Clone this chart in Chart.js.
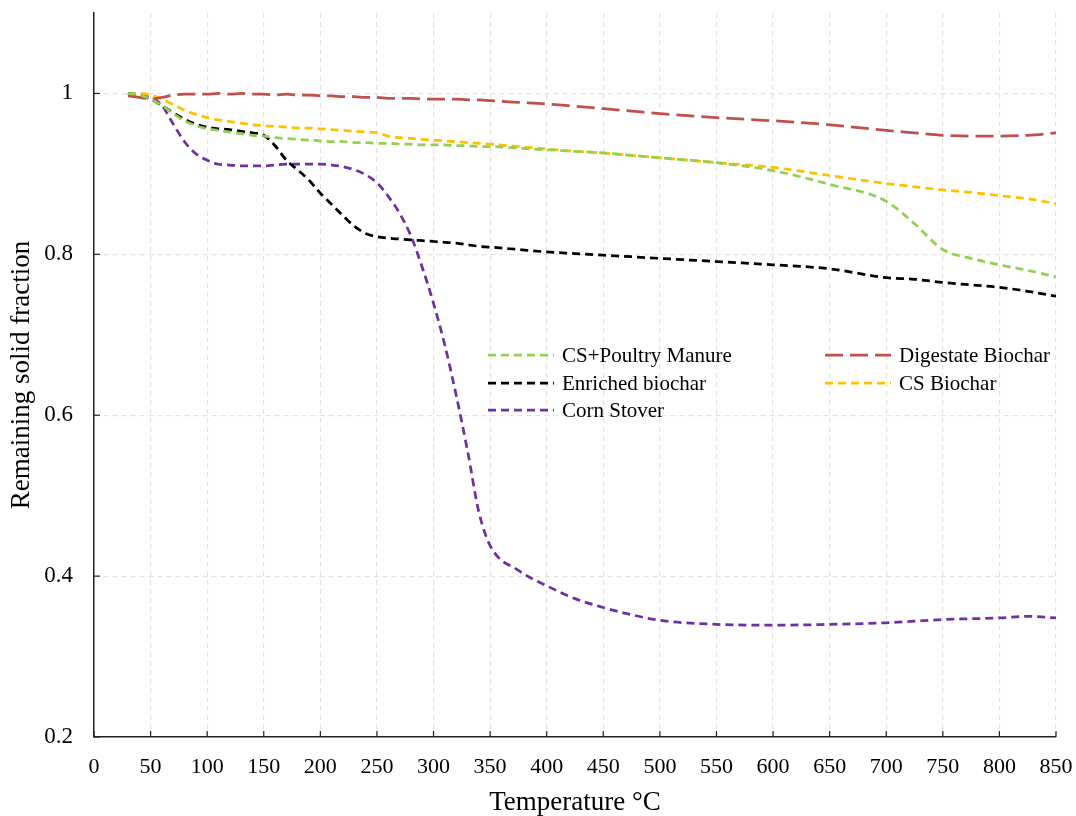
<!DOCTYPE html>
<html>
<head>
<meta charset="utf-8">
<script src="https://cdn.jsdelivr.net/npm/chart.js@4.4.1/dist/chart.umd.min.js"></script>
<style>
  html, body { margin: 0; padding: 0; background: #fff; }
  #wrap { width: 1076px; height: 816px; }
</style>
</head>
<body>
<div id="wrap"><canvas id="myChart"></canvas></div>
<script>
const temps = [30, 40, 50, 60, 70, 80, 90, 100, 110, 120, 130, 140, 150, 160, 170, 180, 190, 200,
  210, 220, 230, 240, 250, 260, 270, 280, 290, 300, 310, 320, 330, 340, 350, 375, 400, 425,
  450, 475, 500, 550, 600, 650, 700, 725, 750, 775, 800, 825, 850];

const csPoultry = [1.0, 0.998, 0.993, 0.985, 0.975, 0.966, 0.960, 0.956, 0.954, 0.952, 0.950, 0.948, 0.947, 0.945, 0.944, 0.943, 0.942, 0.941,
  0.940, 0.940, 0.939, 0.939, 0.938, 0.938, 0.937, 0.937, 0.936, 0.936, 0.936, 0.935, 0.935, 0.934, 0.934, 0.932, 0.930, 0.928,
  0.926, 0.923, 0.920, 0.914, 0.904, 0.887, 0.866, 0.838, 0.806, 0.795, 0.787, 0.780, 0.772];

const digestate = [0.997, 0.995, 0.993, 0.995, 0.998, 0.999, 0.999, 0.999, 1.0, 0.999, 1.0, 0.999, 0.999, 0.998, 0.999, 0.998, 0.998, 0.997,
  0.997, 0.996, 0.996, 0.995, 0.995, 0.994, 0.994, 0.994, 0.993, 0.993, 0.993, 0.993, 0.992, 0.992, 0.991, 0.989, 0.987, 0.984,
  0.981, 0.978, 0.975, 0.970, 0.966, 0.961, 0.954, 0.951, 0.948, 0.947, 0.947, 0.948, 0.951];

const enriched = [1.0, 0.997, 0.993, 0.985, 0.976, 0.968, 0.962, 0.958, 0.956, 0.955, 0.953, 0.951, 0.948, 0.935, 0.917, 0.905, 0.892, 0.876,
  0.862, 0.848, 0.835, 0.826, 0.822, 0.820, 0.819, 0.818, 0.817, 0.816, 0.815, 0.814, 0.812, 0.810, 0.809, 0.806, 0.803, 0.801,
  0.799, 0.797, 0.795, 0.791, 0.787, 0.782, 0.771, 0.769, 0.765, 0.762, 0.759, 0.754, 0.748];

const csBiochar = [1.0, 1.0, 0.998, 0.993, 0.986, 0.979, 0.974, 0.970, 0.967, 0.965, 0.963, 0.961, 0.960, 0.959, 0.958, 0.957, 0.957, 0.956,
  0.955, 0.954, 0.953, 0.952, 0.951, 0.947, 0.945, 0.944, 0.943, 0.942, 0.941, 0.940, 0.939, 0.938, 0.937, 0.934, 0.931, 0.928,
  0.926, 0.923, 0.920, 0.914, 0.908, 0.898, 0.888, 0.884, 0.880, 0.877, 0.873, 0.869, 0.863];

const cornStover = [1.0, 0.998, 0.995, 0.985, 0.962, 0.940, 0.925, 0.917, 0.912, 0.911, 0.910, 0.910, 0.910, 0.911, 0.912, 0.912, 0.912, 0.912,
  0.911, 0.909, 0.905, 0.899, 0.889, 0.872, 0.851, 0.823, 0.784, 0.739, 0.687, 0.625, 0.556, 0.480, 0.438, 0.407, 0.388, 0.372,
  0.361, 0.352, 0.345, 0.340, 0.339, 0.340, 0.342, 0.344, 0.346, 0.347, 0.348, 0.350, 0.348];

const seriesNames = ['CS+Poultry Manure', 'Digestate Biochar', 'Enriched biochar', 'CS Biochar', 'Corn Stover'];
const seriesColors = ['#92D050', '#C0504D', '#000000', '#FFC000', '#7030A0'];
const seriesValues = [csPoultry, digestate, enriched, csBiochar, cornStover];

const FONT = '"Liberation Serif", "Times New Roman", serif';

function makeSet(i) {
  return {
    label: seriesNames[i],
    data: temps.map((t, k) => ({ x: t, y: seriesValues[i][k] })),
    borderColor: seriesColors[i],
    backgroundColor: seriesColors[i],
    borderWidth: 2.75,
    borderDash: i === 1 ? [18, 7] : [8, 5],
    pointRadius: 0,
    cubicInterpolationMode: 'monotone',
    fill: false
  };
}

// legend drawn inside the plot, two columns like the original
const legendPlugin = {
  id: 'innerLegend',
  afterDraw(chart) {
    const ctx = chart.ctx;
    const spots = [
      [488, 355], [825, 355],
      [488, 383], [825, 383],
      [488, 410]
    ];
    ctx.save();
    ctx.font = '21px ' + FONT;
    ctx.textBaseline = 'middle';
    chart.data.datasets.forEach((ds, i) => {
      const [x, y] = spots[i];
      ctx.strokeStyle = ds.borderColor;
      ctx.lineWidth = 2.75;
      ctx.setLineDash(ds.borderDash);
      ctx.beginPath();
      ctx.moveTo(x, y);
      ctx.lineTo(x + 66, y);
      ctx.stroke();
      ctx.setLineDash([]);
      ctx.fillStyle = '#000';
      ctx.fillText(ds.label, x + 74, y + 1);
    });
    ctx.restore();
  }
};

// small inward tick marks on both axes
const tickPlugin = {
  id: 'innerTicks',
  afterDraw(chart) {
    const ctx = chart.ctx;
    const xs = chart.scales.x, ys = chart.scales.y;
    const a = chart.chartArea;
    ctx.save();
    ctx.strokeStyle = '#222';
    ctx.lineWidth = 1.2;
    xs.ticks.forEach(t => {
      const px = xs.getPixelForValue(t.value);
      ctx.beginPath();
      ctx.moveTo(px, a.bottom);
      ctx.lineTo(px, a.bottom - 6);
      ctx.stroke();
    });
    ys.ticks.forEach(t => {
      const py = ys.getPixelForValue(t.value);
      ctx.beginPath();
      ctx.moveTo(a.left, py);
      ctx.lineTo(a.left + 6, py);
      ctx.stroke();
    });
    ctx.restore();
  }
};

const config = {
  type: 'line',
  data: { datasets: [0, 1, 2, 3, 4].map(makeSet) },
  options: {
    responsive: true,
    maintainAspectRatio: false,
    animation: false,
    layout: { padding: { left: 0, right: 20, top: 13, bottom: 0 } },
    plugins: {
      legend: { display: false },
      tooltip: { enabled: false }
    },
    scales: {
      x: {
        type: 'linear',
        min: 0,
        max: 850,
        afterFit(scale) {
          scale.height = 79;
          scale.paddingLeft = 0;
          scale.paddingRight = 0;
        },
        ticks: {
          stepSize: 50,
          padding: 17,
          color: '#000',
          font: { family: FONT, size: 22 }
        },
        grid: {
          color: '#e3e3e3',
          lineWidth: 1.2,
          drawTicks: false
        },
        border: { display: true, color: '#222', width: 1.5, dash: [5, 4] },
        title: {
          display: true,
          text: 'Temperature °C',
          color: '#000',
          font: { family: FONT, size: 27, lineHeight: 1 },
          padding: { top: 0, bottom: 0 }
        }
      },
      y: {
        min: 0.2,
        max: 1.1,
        afterFit(scale) {
          scale.width = 94;
          scale.paddingTop = 0;
          scale.paddingBottom = 0;
        },
        ticks: {
          stepSize: 0.2,
          includeBounds: false,
          padding: 21,
          color: '#000',
          font: { family: FONT, size: 23 },
          callback: v => String(+v.toFixed(1))
        },
        grid: {
          color: '#e3e3e3',
          lineWidth: 1.2,
          drawTicks: false
        },
        border: { display: true, color: '#222', width: 1.5, dash: [5, 4] },
        title: {
          display: true,
          text: 'Remaining solid fraction',
          color: '#000',
          font: { family: FONT, size: 27, lineHeight: 1 },
          padding: { top: 8, bottom: 0 }
        }
      }
    }
  },
  plugins: [legendPlugin, tickPlugin]
};

const myChart = new Chart(
  document.getElementById('myChart'),
  config
);
</script>
</body>
</html>
